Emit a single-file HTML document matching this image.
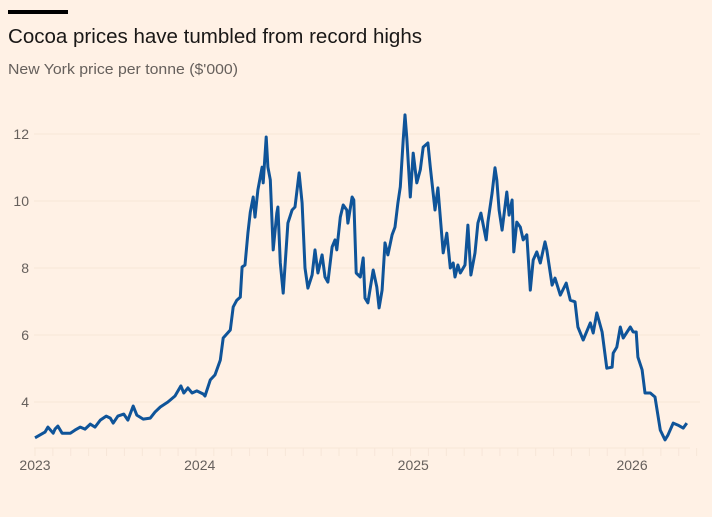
<!DOCTYPE html>
<html><head><meta charset="utf-8"><style>
html,body{margin:0;padding:0;background:#fff1e5;}
svg{display:block;font-family:"Liberation Sans",sans-serif;}
</style></head><body>
<svg id="chart" width="712" height="517" viewBox="0 0 712 517">
<rect x="0" y="0" width="712" height="517" fill="#fff1e5"/>
<rect x="8" y="10" width="60" height="4" fill="#000"/>
<text x="8" y="43" font-size="20" fill="#1a1817" textLength="414" lengthAdjust="spacingAndGlyphs">Cocoa prices have tumbled from record highs</text>
<text x="8" y="74" font-size="15" fill="#66605c" textLength="230" lengthAdjust="spacingAndGlyphs">New York price per tonne ($'000)</text>
<g id="grid"></g>
<g id="yaxis"></g>
<g id="xaxis"></g>
<g id="series"></g>
</svg>
<script>
const yTicks=[4,6,8,10,12];
const yTickLabels=["4","6","8","10","12"];
const xTickDays=[0,280,643,1015];
const xTickLabels=["2023","2024","2025","2026"];
const days=[0,17,22,31,34,39,46,60,68,77,85,94,102,111,121,128,133,141,151,158,167,173,184,196,204,213,226,238,248,253,260,267,275,286,289,298,306,315,320,332,337,343,349,352,357,362,366,371,374,379,386,388,393,396,400,405,411,413,417,422,430,437,442,449,454,459,464,471,476,481,488,493,498,505,510,513,519,524,530,532,539,542,546,553,558,561,566,575,581,585,590,595,600,607,612,617,621,626,629,632,638,643,649,655,660,668,672,680,685,694,700,706,711,714,719,723,731,736,741,748,753,758,767,770,777,782,785,789,794,802,806,811,814,819,825,830,836,842,847,853,859,867,870,879,884,893,903,910,918,923,932,944,949,955,964,972,981,983,989,995,1000,1012,1017,1022,1025,1032,1037,1046,1054,1063,1071,1076,1085,1093,1102,1108];
const prices=[2.93,3.10,3.25,3.07,3.19,3.28,3.07,3.07,3.16,3.25,3.19,3.34,3.25,3.46,3.58,3.52,3.37,3.58,3.64,3.46,3.88,3.61,3.49,3.52,3.70,3.85,4.00,4.18,4.48,4.27,4.42,4.27,4.33,4.24,4.18,4.66,4.81,5.25,5.91,6.15,6.84,7.04,7.13,8.03,8.09,9.04,9.67,10.12,9.52,10.33,11.01,10.54,11.91,11.01,10.63,8.54,9.64,9.82,8.15,7.25,9.34,9.73,9.82,10.84,9.94,8.00,7.40,7.79,8.54,7.85,8.39,7.73,7.58,8.63,8.84,8.54,9.52,9.88,9.73,9.34,10.12,10.03,7.85,7.73,8.30,7.10,6.96,7.94,7.43,6.81,7.34,8.75,8.39,8.99,9.22,9.94,10.42,11.82,12.57,11.88,10.12,11.43,10.54,10.93,11.61,11.73,11.01,9.73,10.39,8.45,9.04,8.00,8.15,7.73,8.09,7.85,8.09,9.28,7.79,8.45,9.34,9.64,8.84,9.37,10.24,10.99,10.63,9.73,9.13,10.27,9.58,10.03,8.48,9.37,9.22,8.84,8.99,7.34,8.24,8.48,8.15,8.78,8.54,7.49,7.70,7.19,7.55,7.04,6.99,6.24,5.85,6.36,6.06,6.66,6.09,5.01,5.04,5.46,5.64,6.24,5.91,6.24,6.09,6.09,5.34,4.96,4.27,4.27,4.15,3.16,2.87,3.01,3.37,3.31,3.22,3.37];

const NS="http://www.w3.org/2000/svg";
function xScale(d){return 35+d/1.7;}
function yScale(v){return 402-(v-4)*33.5;}
const grid=document.getElementById('grid'),yax=document.getElementById('yaxis'),xax=document.getElementById('xaxis'),ser=document.getElementById('series');
yTicks.forEach((t,i)=>{
  const l=document.createElementNS(NS,'line');
  
  
  l.setAttribute('x1',34);l.setAttribute('x2',700);
  l.setAttribute('y1',yScale(t));l.setAttribute('y2',yScale(t));
  l.setAttribute('stroke','#f7e6d8');l.setAttribute('stroke-width','1');
  grid.appendChild(l);
  const tx=document.createElementNS(NS,'text');
  
  
  tx.setAttribute('x',29);tx.setAttribute('y',yScale(t)+5);
  tx.setAttribute('text-anchor','end');tx.setAttribute('font-size','14');tx.setAttribute('fill','#66605c');
  tx.textContent=yTickLabels[i];
  yax.appendChild(tx);
});
const base=document.createElementNS(NS,'line');


base.setAttribute('x1',34);base.setAttribute('x2',690);base.setAttribute('y1',448);base.setAttribute('y2',448);
base.setAttribute('stroke','#f7e6d8');base.setAttribute('stroke-width','1');
xax.appendChild(base);
for(let m=0;m<=37;m++){
  const d=m*30.4;
  const tk=document.createElementNS(NS,'line');
  
  
  tk.setAttribute('x1',xScale(d));tk.setAttribute('x2',xScale(d));tk.setAttribute('y1',448);tk.setAttribute('y2',456);
  tk.setAttribute('stroke','#f7e6d8');tk.setAttribute('stroke-width','1');
  xax.appendChild(tk);
}
xTickDays.forEach((d,i)=>{
  const tx=document.createElementNS(NS,'text');
  
  
  tx.setAttribute('x',xScale(d));tx.setAttribute('y',470);
  tx.setAttribute('text-anchor','middle');tx.setAttribute('font-size','14');tx.setAttribute('fill','#66605c');
  tx.textContent=xTickLabels[i];
  xax.appendChild(tx);
});
const p=document.createElementNS(NS,'path');


p.setAttribute('d',days.map((d,i)=>(i?'L':'M')+xScale(d).toFixed(1)+','+yScale(prices[i]).toFixed(1)).join(''));
p.setAttribute('fill','none');p.setAttribute('stroke','#0f5499');p.setAttribute('stroke-width','3');p.setAttribute('stroke-linejoin','round');
ser.appendChild(p);
</script>
</body></html>
